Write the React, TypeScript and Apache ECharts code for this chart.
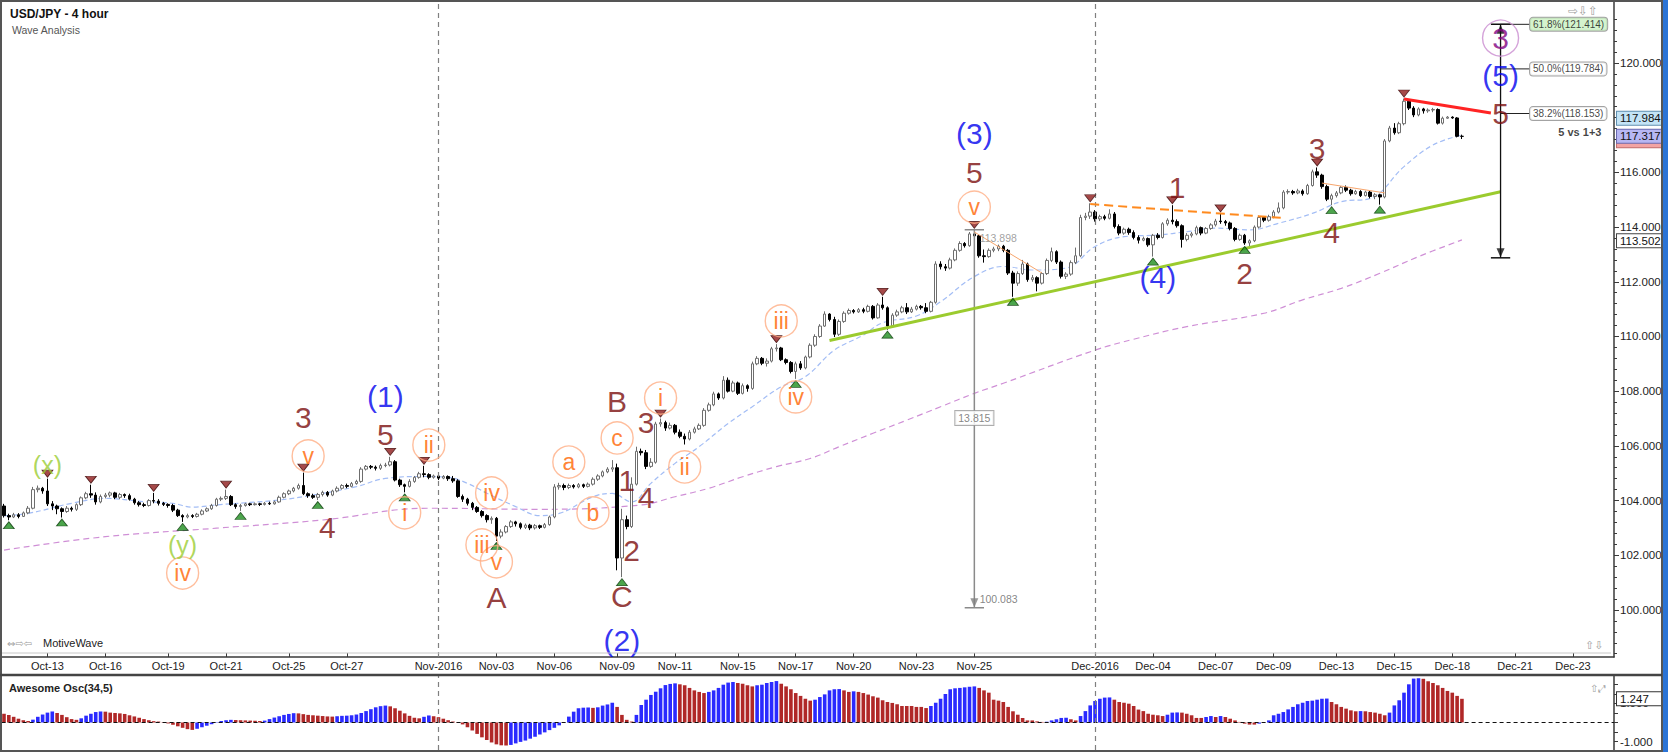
import React, { useEffect, useRef } from "react";
import * as echarts from "echarts";

const FONT = "Liberation Sans, Arial, Helvetica, sans-serif";
const ICON_FONT = "DejaVu Sans, sans-serif";

const SLOTS = 334;
const SLOT = 4.8276;
const GRID_LEFT = 1.586;

const dateTicks: [number, string][] = [
  [9, "Oct-13"], [21, "Oct-16"], [34, "Oct-19"], [46, "Oct-21"], [59, "Oct-25"], [71, "Oct-27"],
  [90, "Nov-2016"], [102, "Nov-03"], [114, "Nov-06"], [127, "Nov-09"], [139, "Nov-11"],
  [152, "Nov-15"], [164, "Nov-17"], [176, "Nov-20"], [189, "Nov-23"], [201, "Nov-25"],
  [226, "Dec-2016"], [238, "Dec-04"], [251, "Dec-07"], [263, "Dec-09"], [276, "Dec-13"],
  [288, "Dec-15"], [300, "Dec-18"], [313, "Dec-21"], [325, "Dec-23"],
];
const monthLines = ["90", "226"];
const priceTicks = [100, 102, 104, 106, 108, 110, 112, 114, 116, 118, 120];
const aoTicks = [-1, -0.5, 0, 0.5, 1, 1.5, 2];
const aoLabels = [-1, 1];

// [open, close, low, high] 4-hour candles
const candles: number[][] = [
  [103.80,103.45,103.38,103.88],[103.45,103.40,103.28,103.52],[103.40,103.48,103.36,103.55],[103.48,103.42,103.35,103.54],[103.42,103.55,103.40,103.60],
  [103.55,103.72,103.50,103.80],[103.72,104.40,103.68,104.50],[104.40,104.45,104.30,104.55],[104.45,104.35,104.25,104.50],[104.35,103.88,103.80,104.80],
  [103.88,103.80,103.65,103.98],[103.80,103.70,103.50,103.85],[103.70,103.60,103.38,103.75],[103.60,103.72,103.55,103.80],[103.72,103.68,103.60,103.78],
  [103.68,103.85,103.62,103.90],[103.85,104.10,103.80,104.15],[104.10,104.25,104.05,104.32],[104.25,104.20,104.10,104.58],[104.20,103.95,103.85,104.30],
  [103.95,104.15,103.90,104.22],[104.15,104.20,104.08,104.28],[104.20,104.28,104.12,104.33],[104.28,104.12,104.05,104.32],[104.12,104.22,104.05,104.28],
  [104.22,104.18,104.10,104.26],[104.18,104.05,104.00,104.25],[104.05,103.92,103.85,104.10],[103.92,103.85,103.78,103.98],[103.85,103.82,103.76,103.92],
  [103.82,104.00,103.78,104.05],[104.00,103.98,103.90,104.28],[103.98,103.90,103.82,104.05],[103.90,103.86,103.80,103.95],[103.86,103.82,103.74,103.90],
  [103.82,103.65,103.58,103.88],[103.65,103.45,103.40,103.70],[103.45,103.40,103.22,103.50],[103.40,103.45,103.35,103.52],[103.45,103.42,103.36,103.50],
  [103.42,103.50,103.38,103.55],[103.50,103.62,103.46,103.68],[103.62,103.70,103.58,103.75],[103.70,103.82,103.66,103.88],[103.82,104.05,103.78,104.10],
  [104.05,104.08,103.98,104.15],[104.08,104.15,104.02,104.40],[104.15,103.85,103.80,104.20],[103.85,103.78,103.70,103.90],[103.78,103.82,103.62,103.88],
  [103.82,103.88,103.78,103.92],[103.88,103.85,103.80,103.92],[103.85,103.88,103.82,103.93],[103.88,103.86,103.80,103.92],[103.86,103.90,103.82,103.95],
  [103.90,103.88,103.84,103.96],[103.88,103.95,103.85,104.00],[103.95,104.12,103.92,104.18],[104.12,104.25,104.08,104.30],[104.25,104.35,104.20,104.40],
  [104.35,104.45,104.30,104.50],[104.45,104.55,104.40,104.62],[104.55,104.25,104.20,105.02],[104.25,104.18,104.10,104.30],[104.18,104.12,104.06,104.25],
  [104.12,104.22,104.02,104.28],[104.22,104.30,104.15,104.36],[104.30,104.20,104.14,104.35],[104.20,104.35,104.16,104.40],[104.35,104.45,104.30,104.52],
  [104.45,104.55,104.40,104.60],[104.55,104.52,104.45,104.62],[104.52,104.62,104.48,104.68],[104.62,104.70,104.58,104.76],[104.70,105.15,104.65,105.22],
  [105.15,105.25,105.10,105.30],[105.25,105.22,105.15,105.30],[105.22,105.18,105.10,105.28],[105.18,105.28,105.12,105.35],[105.28,105.30,105.22,105.38],
  [105.30,105.42,105.25,105.60],[105.42,104.75,104.70,105.48],[104.75,104.58,104.50,104.80],[104.58,104.52,104.30,104.62],[104.52,104.70,104.48,104.78],
  [104.70,104.85,104.65,104.90],[104.85,104.98,104.80,105.05],[104.98,104.95,104.85,105.27],[104.95,104.85,104.78,105.00],[104.85,104.90,104.80,104.95],
  [104.90,104.82,104.75,104.95],[104.82,104.88,104.78,104.93],[104.88,104.80,104.72,104.92],[104.80,104.72,104.65,104.90],[104.72,104.15,104.10,104.78],
  [104.15,104.05,103.95,104.22],[104.05,103.90,103.82,104.10],[103.90,103.75,103.65,103.95],[103.75,103.60,103.55,103.80],[103.60,103.45,103.38,103.65],
  [103.45,103.30,103.20,103.50],[103.30,103.35,103.15,103.42],[103.35,102.70,102.52,103.40],[102.70,102.85,102.62,102.95],[102.85,103.05,102.80,103.10],
  [103.05,103.22,103.00,103.28],[103.22,103.15,103.05,103.26],[103.15,103.02,102.95,103.20],[103.02,103.10,102.96,103.16],[103.10,103.00,102.92,103.15],
  [103.00,103.08,102.94,103.14],[103.08,103.02,102.96,103.12],[103.02,103.12,102.98,103.18],[103.12,103.40,103.08,103.45],[103.40,104.50,103.35,104.60],
  [104.50,104.55,104.40,104.65],[104.55,104.48,104.38,104.62],[104.48,104.55,104.42,104.62],[104.55,104.50,104.44,104.60],[104.50,104.58,104.45,104.64],
  [104.58,104.52,104.46,104.62],[104.52,104.60,104.48,104.66],[104.60,104.78,104.55,104.85],[104.78,104.90,104.72,104.96],[104.90,105.05,104.85,105.10],
  [105.05,105.15,105.00,105.22],[105.15,105.20,105.05,105.48],[105.20,101.90,101.45,105.35],[101.90,103.30,101.20,103.70],[103.30,103.05,102.95,103.45],
  [103.05,104.60,103.00,104.85],[104.60,105.80,104.55,105.97],[105.80,105.75,105.65,105.90],[105.75,105.25,105.15,105.85],[105.25,105.40,105.20,105.55],
  [105.40,106.80,105.35,106.88],[106.80,106.85,106.70,107.00],[106.85,106.65,106.55,106.92],[106.65,106.75,106.60,106.85],[106.75,106.50,106.42,106.80],
  [106.50,106.35,106.28,106.60],[106.35,106.25,106.05,106.45],[106.25,106.50,106.20,106.58],[106.50,106.62,106.45,106.70],[106.62,106.75,106.58,106.82],
  [106.75,107.30,106.70,107.38],[107.30,107.50,107.25,107.58],[107.50,107.90,107.45,107.98],[107.90,107.75,107.68,107.95],[107.75,108.40,107.70,108.55],
  [108.40,108.00,107.95,108.50],[108.00,108.30,107.96,108.38],[108.30,107.92,107.86,108.35],[107.92,108.20,107.88,108.28],[108.20,108.10,107.98,108.25],
  [108.10,109.00,108.05,109.08],[109.00,109.20,108.95,109.28],[109.20,109.02,108.95,109.25],[109.02,109.10,108.90,109.20],[109.10,109.55,109.05,109.62],
  [109.55,109.58,109.45,109.72],[109.58,109.15,109.10,109.62],[109.15,109.05,108.98,109.20],[109.05,108.72,108.65,109.10],[108.72,109.00,108.45,109.08],
  [109.00,108.85,108.78,109.10],[108.85,109.25,108.80,109.30],[109.25,109.68,109.20,109.75],[109.68,110.00,109.62,110.08],[110.00,110.38,109.95,110.45],
  [110.38,110.82,110.35,110.92],[110.82,110.62,110.55,110.85],[110.62,110.08,109.98,110.72],[110.08,110.55,110.02,110.62],[110.55,110.85,110.50,110.92],
  [110.85,110.95,110.80,111.02],[110.95,110.90,110.84,111.00],[110.90,110.98,110.86,111.04],[110.98,110.92,110.85,111.05],[110.92,111.10,110.88,111.16],
  [111.10,110.68,110.62,111.15],[110.68,111.15,110.65,111.22],[111.15,111.05,110.98,111.45],[111.05,110.38,110.25,111.10],[110.38,110.78,110.32,110.85],
  [110.78,110.90,110.72,110.98],[110.90,111.05,110.85,111.12],[111.05,110.90,110.82,111.22],[110.90,111.00,110.86,111.08],[111.00,111.10,110.95,111.16],
  [111.10,111.05,110.98,111.15],[111.05,110.92,110.85,111.22],[110.92,111.25,110.88,111.30],[111.25,112.65,111.20,112.75],[112.65,112.55,112.45,112.75],
  [112.55,112.50,112.40,112.65],[112.50,112.80,112.45,112.88],[112.80,113.15,112.75,113.22],[113.15,113.40,113.10,113.48],[113.40,113.32,113.25,113.45],
  [113.32,113.75,113.28,113.82],[113.75,113.68,113.55,113.90],[113.68,112.95,112.88,113.72],[112.95,112.92,112.70,113.18],[112.92,113.15,112.88,113.22],
  [113.15,113.20,113.08,113.28],[113.20,113.30,113.12,113.36],[113.30,113.15,113.08,113.35],[113.15,112.32,112.25,113.20],[112.32,111.95,111.45,112.40],
  [111.95,112.30,111.85,112.38],[112.30,112.65,112.25,112.80],[112.65,112.08,112.00,112.70],[112.08,112.15,112.00,112.25],[112.15,111.95,111.65,112.20],
  [111.95,112.30,111.90,112.36],[112.30,112.78,112.25,112.85],[112.78,113.10,112.72,113.25],[113.10,112.72,112.65,113.15],[112.72,112.20,112.12,112.78],
  [112.20,112.28,112.10,112.35],[112.28,112.70,112.22,112.78],[112.70,112.95,112.65,113.25],[112.95,114.35,112.90,114.45],[114.35,114.40,114.25,114.52],
  [114.40,114.55,114.30,114.87],[114.55,114.30,114.20,114.62],[114.30,114.38,114.22,114.45],[114.38,114.32,114.25,114.45],[114.32,114.48,114.28,114.65],
  [114.48,114.02,113.95,114.55],[114.02,113.78,113.70,114.10],[113.78,113.92,113.72,113.98],[113.92,113.80,113.72,113.98],[113.80,113.62,113.55,113.88],
  [113.62,113.52,113.40,113.70],[113.52,113.58,113.48,113.65],[113.58,113.35,113.28,113.62],[113.35,113.70,112.92,113.75],[113.70,113.62,113.55,113.78],
  [113.62,114.12,113.58,114.18],[114.12,114.25,114.05,114.32],[114.25,114.20,114.10,114.80],[114.20,114.05,113.98,114.28],[114.05,113.55,113.25,114.10],
  [113.55,113.70,113.48,113.78],[113.70,113.75,113.62,113.82],[113.75,113.98,113.70,114.05],[113.98,113.78,113.70,114.02],[113.78,113.95,113.74,114.00],
  [113.95,114.08,113.90,114.14],[114.08,114.22,114.02,114.30],[114.22,114.20,114.12,114.50],[114.20,114.15,114.05,114.26],[114.15,113.95,113.88,114.20],
  [113.95,113.55,113.48,114.00],[113.55,113.70,113.50,113.76],[113.70,113.42,113.35,113.75],[113.42,113.50,113.30,113.55],[113.50,114.00,113.45,114.06],
  [114.00,114.35,113.95,114.42],[114.35,114.25,114.18,114.40],[114.25,114.38,114.20,114.45],[114.38,114.55,114.32,114.62],[114.55,114.70,114.50,114.90],
  [114.70,115.28,114.65,115.35],[115.28,115.30,115.20,115.38],[115.30,115.25,115.18,115.36],[115.25,115.32,115.20,115.40],[115.32,115.22,115.15,115.38],
  [115.22,115.52,115.18,115.58],[115.52,116.02,115.48,116.10],[116.02,115.90,115.80,116.18],[115.90,115.48,115.40,115.95],[115.48,115.02,114.95,115.55],
  [115.02,115.15,114.80,115.22],[115.15,115.25,115.08,115.32],[115.25,115.45,115.20,115.50],[115.45,115.35,115.28,115.52],[115.35,115.22,115.15,115.40],
  [115.22,115.30,115.18,115.36],[115.30,115.15,115.10,115.35],[115.15,115.28,115.12,115.33],[115.28,115.12,115.05,115.32],[115.12,115.18,115.02,115.24],
  [115.18,115.10,114.82,115.22],[115.10,117.15,115.05,117.22],[117.15,117.62,117.10,117.70],[117.62,117.45,117.38,117.80],[117.45,117.78,117.40,117.85],
  [117.78,118.60,117.72,118.70],[118.60,118.35,118.28,118.62],[118.35,118.10,118.02,118.42],[118.10,118.32,118.05,118.38],[118.32,118.25,118.15,118.36],
  [118.25,118.28,118.18,118.34],[118.28,118.30,118.20,118.36],[118.30,117.80,117.75,118.34],[117.80,117.98,117.75,118.04],[117.98,118.02,117.96,118.06],
  [118.02,117.99,117.96,118.05],[117.99,117.32,117.28,118.02],[117.32,117.317,117.22,117.38],
];

// Awesome Oscillator (34,5) histogram values
const aoValues: number[] = [
  0.46,0.40,0.30,0.20,0.12,0.08,0.15,0.30,0.42,0.52,
  0.58,0.50,0.40,0.28,0.18,0.14,0.22,0.36,0.46,0.55,
  0.58,0.57,0.52,0.50,0.48,0.45,0.38,0.32,0.25,0.18,
  0.12,0.07,0.05,0.02,-0.05,-0.12,-0.20,-0.28,-0.35,-0.39,
  -0.33,-0.25,-0.17,-0.09,-0.02,0.08,0.12,0.14,0.13,0.12,
  0.11,0.10,0.09,0.08,0.10,0.18,0.26,0.33,0.40,0.45,
  0.49,0.48,0.44,0.40,0.38,0.36,0.34,0.32,0.31,0.33,
  0.35,0.36,0.38,0.42,0.50,0.60,0.70,0.80,0.86,0.89,
  0.85,0.75,0.62,0.48,0.35,0.25,0.22,0.30,0.37,0.33,
  0.28,0.20,0.12,0.05,-0.02,-0.10,-0.25,-0.42,-0.60,-0.78,
  -0.92,-1.05,-1.15,-1.20,-1.21,-1.18,-1.10,-1.02,-0.95,-0.85,
  -0.75,-0.63,-0.52,-0.40,-0.28,-0.15,-0.02,0.31,0.57,0.75,
  0.78,0.79,0.77,0.80,0.89,0.95,1.04,0.82,0.40,0.14,
  0.05,0.40,0.92,1.20,1.45,1.62,1.80,1.97,2.03,2.06,
  2.01,1.96,1.82,1.69,1.61,1.55,1.61,1.69,1.82,1.99,
  2.10,2.13,2.08,2.04,1.96,1.90,1.96,1.99,2.08,2.13,
  2.18,2.04,1.90,1.75,1.55,1.40,1.25,1.15,1.20,1.34,
  1.48,1.69,1.75,1.76,1.69,1.61,1.64,1.61,1.55,1.47,
  1.38,1.31,1.17,1.08,1.03,0.96,0.87,0.87,0.87,0.82,
  0.82,0.76,0.87,1.04,1.25,1.50,1.75,1.80,1.82,1.85,
  1.88,1.90,1.82,1.69,1.57,1.20,1.15,1.08,0.82,0.59,
  0.41,0.24,0.11,0.11,0.06,0.03,0.04,0.11,0.17,0.24,
  0.25,0.17,0.11,0.34,0.60,0.90,1.13,1.25,1.31,1.32,
  1.20,1.08,1.04,0.99,0.87,0.68,0.60,0.46,0.41,0.38,
  0.34,0.41,0.52,0.53,0.52,0.46,0.38,0.24,0.24,0.29,
  0.34,0.29,0.34,0.29,0.20,0.11,0.03,-0.06,-0.11,-0.11,
  -0.06,-0.01,0.11,0.38,0.46,0.55,0.69,0.82,0.96,1.04,
  1.13,1.15,1.20,1.25,1.26,1.08,0.96,0.82,0.73,0.64,
  0.59,0.60,0.59,0.55,0.52,0.46,0.38,0.52,0.90,1.17,
  1.57,2.01,2.31,2.33,2.30,2.17,2.08,1.96,1.82,1.66,
  1.57,1.40,1.247,
];

// moving averages read at sampled candle positions [index, price]
const fastMA: number[][] = [
  [0,103.45],[5,103.53],[14,103.9],[21,104.08],[29,103.96],[35,103.9],[39,103.76],[44,103.84],[50,103.92],[57,104.02],
  [64,104.2],[73,104.51],[79,104.81],[87,104.88],[92,104.85],[96,104.63],[100,104.27],[106,103.78],[111,103.45],[115,103.53],
  [122,104.14],[126,104.26],[130,103.95],[134,104.63],[139,105.36],[144,105.97],[150,106.82],[155,107.43],[161,108.16],[166,108.53],
  [172,109.5],[178,110.05],[182,110.5],[189,110.75],[194,111.27],[201,112.19],[207,112.56],[213,112.43],[220,112.5],[226,113.29],
  [232,113.65],[239,113.71],[245,113.83],[251,113.96],[258,113.9],[264,114.14],[271,114.5],[277,114.93],[283,115.05],[290,116.21],
  [296,117.0],[302,117.37],
];
const slowMA: number[][] = [
  [0,102.19],[21,102.68],[44,102.99],[66,103.29],[88,103.72],[111,103.68],[132,103.84],[139,104.14],[146,104.45],[153,104.87],
  [160,105.24],[167,105.54],[173,105.97],[180,106.46],[187,106.94],[194,107.43],[201,107.92],[207,108.29],[226,109.5],[234,109.9],
  [245,110.36],[261,110.85],[269,111.34],[277,111.76],[285,112.31],[293,112.92],[302,113.53],
];

// swing markers (candle indexes)
const swingHighs = [9, 18, 31, 46, 62, 80, 87, 136, 160, 182, 201, 225, 242, 252, 272, 290];
const swingLows = [1, 12, 37, 49, 65, 83, 102, 128, 164, 183, 209, 238, 257, 275, 285];

// wave labels [text, index, price]
const maroonLabels: [string, number, number][] = [
  ["3", 62.3, 107.02], ["4", 66.9, 103.03], ["5", 79.4, 106.4], ["A", 102.3, 100.44],
  ["B", 127.4, 107.61], ["3", 132.8, 106.87], ["1", 129.1, 104.75], ["4", 133.2, 104.1],
  ["2", 129.5, 102.19], ["C", 128.2, 100.48], ["5", 200.5, 115.98], ["1", 242.6, 115.43],
  ["2", 257.1, 112.32], ["3", 271.8, 116.89], ["4", 275.3, 113.82], ["5", 309.5, 118.17],
];
const blueLabels: [string, number, number][] = [
  ["(1)", 79.4, 107.79], ["(2)", 128.4, 98.9], ["(3)", 200.5, 117.44], ["(4)", 238.6, 112.14], ["(5)", 309.5, 119.56],
];
const greenLabels: [string, number, number][] = [["(x)", 8.7, 105.3], ["(y)", 36.9, 102.38]];
const orangeCircled: [string, number, number][] = [
  ["iv", 37.3, 101.35], ["v", 62.6, 105.63], ["i", 83.1, 103.55], ["ii", 88.2, 106.03],
  ["iv", 100.7, 104.28], ["iii", 99.0, 102.38], ["v", 102.3, 101.76], ["a", 117.4, 105.41],
  ["b", 121.8, 103.55], ["c", 127.2, 106.29], ["i", 136.3, 107.75], ["ii", 141.1, 105.23],
  ["iii", 160.5, 110.57], ["iv", 163.9, 107.79], ["v", 200.5, 114.73],
];
const purpleCircled: [string, number, number][] = [["3", 309.5, 120.91]];

// drawn lines [[index, price], [index, price]]
const trendLines = [
  { pts: [[171.4, 109.85], [309.5, 115.29]], color: "#9bcb2e", width: 3, type: "solid" },
  { pts: [[224.8, 114.84], [265.2, 114.33]], color: "#ff8a1e", width: 2, type: [9, 5] },
  { pts: [[201.3, 113.82], [215.1, 112.32]], color: "#f7a56c", width: 1, type: "solid" },
  { pts: [[273.4, 115.61], [285.6, 115.25]], color: "#f7a56c", width: 1, type: "solid" },
  { pts: [[289.8, 118.68], [308.4, 118.17]], color: "#ff2424", width: 3, type: "solid" },
];

// wave (1)-(3) measure and wave (5) projection
const measureX = 200.5;
const measureTop = 113.898;
const measureBottom = 100.083;
const measureLen = "13.815";
const fibX = 309.5;
const fibBase = 112.876;
const fibLabelX = 316.3;
const fibLevels: [string, number, string][] = [
  ["61.8%(121.414)", 121.414, "#c9f0c0"],
  ["50.0%(119.784)", 119.784, "#ffffff"],
  ["38.2%(118.153)", 118.153, "#ffffff"],
];

// right axis value tags [value, text, background, border]
const priceTags: [number, string, string, string][] = [
  [117.984, "117.984", "#c4e4f6", "#5f8fb0"],
  [117.16, " ", "#f2a4a4", "#c07070"],
  [117.317, "117.317", "#b7b7f3", "#6a6ab0"],
  [113.502, "113.502", "#ffffff", "#444444"],
];
const aoTag = 1.247;

const AO_UP = "#2a2aff";
const AO_DOWN = "#b02828";
const MAROON = "#7a0c0c";
const BLUE = "#0000ee";

function textSeries(items: [string, number, number][], color: string, fontSize: number, circle?: { size: number; stroke: string }) {
  return {
    type: "scatter",
    xAxisIndex: 0,
    yAxisIndex: 0,
    z: 20,
    silent: true,
    symbol: "circle",
    symbolSize: circle ? circle.size : 1,
    itemStyle: circle
      ? { color: "rgba(255,255,255,0)", borderColor: circle.stroke, borderWidth: 1.4 }
      : { color: "rgba(255,255,255,0)" },
    data: items.map(([t, i, p]) => ({ name: t, value: [i, p] })),
    label: { show: true, position: "inside", formatter: "{b}", color, fontSize, fontFamily: FONT },
  };
}

function segment(pts: number[][], color: string, width: number, type: any = "solid", z = 6) {
  return {
    type: "line",
    xAxisIndex: 0,
    yAxisIndex: 0,
    silent: true,
    z,
    symbol: "none",
    data: pts,
    lineStyle: { color, width, type },
  };
}

function tagItem(v: number, t: string, bg: string, bd: string) {
  return {
    yAxis: v,
    lineStyle: { color: "rgba(0,0,0,0)", width: 1 },
    label: {
      show: true, position: "end", distance: 3, formatter: t, color: "#111", fontSize: 11.5, fontFamily: FONT,
      backgroundColor: bg, borderColor: bd, borderWidth: 1, padding: [1, 3, 0, 3], width: 40, height: 12,
    },
  };
}

function buildOption() {
  const tickMap = new Map<number, string>(dateTicks);
  const cats = Array.from({ length: SLOTS }, (_, i) => String(i));
  const minorTicks: number[] = [];
  for (let k = 1; k < 61; k++) {
    const v = Math.round((98 + 0.4 * k) * 10) / 10;
    if (k % 5 !== 0 && v < 122.2) minorTicks.push(v);
  }
  const gridW = SLOTS * SLOT;
  const priceMin = 98.28;
  const priceMax = 122.23;

  const series: any[] = [];

  series.push({
    type: "line", xAxisIndex: 0, yAxisIndex: 0, z: 2, silent: true, symbol: "none", smooth: 0.4,
    data: slowMA, lineStyle: { color: "#cf8fd6", width: 1.2, type: [6, 4] },
  });
  series.push({
    type: "line", xAxisIndex: 0, yAxisIndex: 0, z: 2, silent: true, symbol: "none", smooth: 0.4,
    data: fastMA, lineStyle: { color: "#a3bdf5", width: 1.2, type: [5, 3] },
  });

  series.push({
    type: "candlestick",
    xAxisIndex: 0,
    yAxisIndex: 0,
    z: 4,
    barWidth: 3,
    data: candles,
    itemStyle: { color: "#ffffff", color0: "#000000", borderColor: "#6e6e6e", borderColor0: "#000000", borderWidth: 1 },
    markLine: {
      silent: true,
      symbol: "none",
      animation: false,
      data: monthLines.map((m) => ({ xAxis: m, lineStyle: { color: "#808080", width: 1.2, type: [5, 4] }, label: { show: false } })),
    },
  });

  // value tags on the price axis
  series.push({
    type: "line", xAxisIndex: 0, yAxisIndex: 0, z: 30, silent: true, symbol: "none", data: [],
    markLine: {
      silent: true, symbol: "none", animation: false,
      data: priceTags.map(([v, t, bg, bd]) => tagItem(v, t, bg, bd)),
    },
  });

  trendLines.forEach((t) => series.push(segment(t.pts, t.color, t.width, t.type)));

  // measure tool
  series.push(segment([[measureX, measureTop], [measureX, measureBottom]], "#8a8a8a", 1.5, "solid", 5));
  series.push(segment([[measureX - 2, measureTop], [measureX + 2, measureTop]], "#8a8a8a", 1.5, "solid", 5));
  series.push(segment([[measureX - 2, measureBottom], [measureX + 2, measureBottom]], "#8a8a8a", 1.5, "solid", 5));
  series.push({
    type: "scatter", xAxisIndex: 0, yAxisIndex: 0, z: 7, silent: true,
    symbol: "triangle", symbolRotate: 180, symbolSize: [8, 9], symbolOffset: [0, -5],
    itemStyle: { color: "#808080" }, data: [[measureX, measureBottom]],
  });

  // fib projection tool
  series.push(segment([[fibX, fibBase], [fibX, fibLevels[0][1]]], "#111111", 1.3, "solid", 7));
  series.push(segment([[fibX - 2, fibLevels[0][1]], [fibX + 2, fibLevels[0][1]]], "#111111", 1.5, "solid", 7));
  series.push(segment([[fibX - 2, fibBase], [fibX + 2, fibBase]], "#111111", 1.5, "solid", 7));
  fibLevels.forEach(([, v]) => series.push(segment([[fibX, v], [fibLabelX, v]], "#222222", 1, "solid", 7)));
  series.push({
    type: "scatter", xAxisIndex: 0, yAxisIndex: 0, z: 8, silent: true,
    symbol: "triangle", symbolSize: [8, 9],
    itemStyle: { color: "#111111" },
    data: [
      { value: [fibX, fibBase], symbolRotate: 180, symbolOffset: [0, -5] },
      { value: [fibX, fibLevels[0][1]], symbolRotate: 0, symbolOffset: [0, 5] },
    ],
  });
  series.push({
    type: "scatter", xAxisIndex: 0, yAxisIndex: 0, z: 9, silent: true,
    symbol: "circle", symbolSize: 1, itemStyle: { color: "rgba(0,0,0,0)" },
    data: fibLevels.map(([t, v, bg]) => ({
      name: t, value: [fibLabelX, v],
      label: { backgroundColor: bg },
    })),
    label: {
      show: true, position: "right", distance: 0, formatter: "{b}", color: "#111", fontSize: 10, fontFamily: FONT,
      borderColor: "#8c8c8c", borderWidth: 1, borderRadius: 3, padding: [2, 3, 1, 3],
    },
  });

  // measure text
  series.push({
    type: "scatter", xAxisIndex: 0, yAxisIndex: 0, z: 9, silent: true,
    symbol: "circle", symbolSize: 1, itemStyle: { color: "rgba(0,0,0,0)" },
    data: [
      { name: measureLen, value: [measureX, 107.02], label: { position: "inside", backgroundColor: "#ffffff", borderColor: "#999", borderWidth: 1, padding: [2, 3, 1, 3], color: "#666" } },
      { name: measureTop.toFixed(3), value: [measureX + 1.6, 113.61], label: { position: "right", distance: 0, color: "#8a8a8a" } },
      { name: measureBottom.toFixed(3), value: [measureX + 1.2, 100.4], label: { position: "right", distance: 0, color: "#666" } },
      { name: "5 vs 1+3", value: [331.4, 117.47], label: { position: "left", distance: 0, color: "#111", fontWeight: "bold", fontSize: 11 } },
    ],
    label: { show: true, formatter: "{b}", fontSize: 10.5, fontFamily: FONT },
  });

  // swing markers
  series.push({
    type: "scatter", xAxisIndex: 0, yAxisIndex: 0, z: 10, silent: true,
    symbol: "triangle", symbolRotate: 180, symbolSize: [11, 7], symbolOffset: [0, -5],
    itemStyle: { color: "#8e1b1b", borderColor: "#3b0808", borderWidth: 0.8 },
    data: swingHighs.map((i) => [i, candles[i][3]]),
  });
  series.push({
    type: "scatter", xAxisIndex: 0, yAxisIndex: 0, z: 10, silent: true,
    symbol: "triangle", symbolSize: [11, 7], symbolOffset: [0, 5],
    itemStyle: { color: "#1f8f1f", borderColor: "#0b3b0b", borderWidth: 0.8 },
    data: swingLows.map((i) => [i, candles[i][2]]),
  });

  series.push(textSeries(orangeCircled, "#ff6400", 23, { size: 32, stroke: "#ffae84" }));
  series.push(textSeries(purpleCircled, "#800080", 30, { size: 36, stroke: "#c98bd0" }));
  series.push(textSeries(maroonLabels, MAROON, 30));
  series.push(textSeries(blueLabels, BLUE, 30));
  series.push(textSeries(greenLabels, "#9acd32", 25));

  // Awesome oscillator
  series.push({
    type: "bar",
    xAxisIndex: 1,
    yAxisIndex: 2,
    barWidth: 3.6,
    silent: true,
    data: aoValues.map((v, i) => ({ value: v, itemStyle: { color: i > 0 && v > aoValues[i - 1] ? AO_UP : AO_DOWN } })),
    markLine: {
      silent: true,
      symbol: "none",
      animation: false,
      data: [
        { yAxis: 0, lineStyle: { color: "#111", width: 1, type: [4, 3] }, label: { show: false } },
        ...monthLines.map((m) => ({ xAxis: m, lineStyle: { color: "#808080", width: 1.2, type: [5, 4] }, label: { show: false } })),
      ],
    },
  });
  series.push({
    type: "line", xAxisIndex: 1, yAxisIndex: 2, z: 30, silent: true, symbol: "none", data: [],
    markLine: { silent: true, symbol: "none", animation: false, data: [tagItem(aoTag, aoTag.toFixed(3), "#ffffff", "#333333")] },
  });

  const G = "#3a3a3a";
  const graphic: any[] = [
    { type: "rect", z: 100, silent: true, shape: { x: 1662, y: 0, width: 6, height: 752 }, style: { fill: "#2b74d6" } },
    { type: "rect", z: 100, silent: true, shape: { x: 1, y: 1, width: 1661, height: 750 }, style: { fill: "none", stroke: "#555", lineWidth: 2 } },
    { type: "line", z: 100, silent: true, shape: { x1: 0, y1: 675, x2: 1662, y2: 675 }, style: { stroke: "#444", lineWidth: 2.5 } },
    { type: "line", z: 100, silent: true, shape: { x1: 2, y1: 653, x2: 1611, y2: 653 }, style: { stroke: "#c8c8c8", lineWidth: 1 } },
    { type: "text", z: 100, silent: true, x: 10, y: 14, style: { text: "USD/JPY - 4 hour", font: `bold 12px ${FONT}`, fill: "#111", textVerticalAlign: "middle" } },
    { type: "text", z: 100, silent: true, x: 12, y: 30, style: { text: "Wave Analysis", font: `10.5px ${FONT}`, fill: "#555", textVerticalAlign: "middle" } },
    { type: "text", z: 100, silent: true, x: 7, y: 643, style: { text: "⇔⇨⇦", font: `10px ${ICON_FONT}`, fill: "#9a9a9a", textVerticalAlign: "middle" } },
    { type: "text", z: 100, silent: true, x: 43, y: 643, style: { text: "MotiveWave", font: `11px ${FONT}`, fill: "#222", textVerticalAlign: "middle" } },
    { type: "text", z: 100, silent: true, x: 9, y: 688, style: { text: "Awesome Osc(34,5)", font: `bold 11px ${FONT}`, fill: "#222", textVerticalAlign: "middle" } },
    { type: "text", z: 100, silent: true, x: 1568, y: 11, style: { text: "⇨⇩⇧", font: `12px ${ICON_FONT}`, fill: "#a0a0a0", textVerticalAlign: "middle" } },
    { type: "text", z: 100, silent: true, x: 1585, y: 645, style: { text: "⇧⇩", font: `11px ${ICON_FONT}`, fill: "#a0a0a0", textVerticalAlign: "middle" } },
    { type: "text", z: 100, silent: true, x: 1590, y: 688, style: { text: "⇧⤢", font: `10px ${ICON_FONT}`, fill: "#a0a0a0", textVerticalAlign: "middle" } },
  ];

  return {
    animation: false,
    backgroundColor: "#ffffff",
    textStyle: { fontFamily: FONT },
    grid: [
      { left: GRID_LEFT, top: 2, width: gridW, height: 655, outerBoundsMode: "none", containLabel: false },
      { left: GRID_LEFT, top: 676, width: gridW, height: 74, outerBoundsMode: "none", containLabel: false },
    ],
    xAxis: [
      {
        type: "category",
        gridIndex: 0,
        data: cats,
        boundaryGap: true,
        axisLine: { show: true, lineStyle: { color: G, width: 1.5 } },
        axisTick: {
          show: true, inside: true, length: 4, alignWithLabel: true,
          interval: (i: number) => tickMap.has(i), lineStyle: { color: G },
        },
        axisLabel: {
          interval: (i: number) => tickMap.has(i),
          formatter: (_v: string, i: number) => tickMap.get(i) ?? "",
          color: "#222", fontSize: 11, fontFamily: FONT, margin: 3,
        },
        splitLine: { show: false },
      },
      {
        type: "category",
        gridIndex: 1,
        data: cats,
        boundaryGap: true,
        axisLine: { show: false },
        axisTick: { show: false },
        axisLabel: { show: false },
        splitLine: { show: false },
      },
    ],
    yAxis: [
      {
        type: "value",
        gridIndex: 0,
        position: "right",
        min: priceMin,
        max: priceMax,
        axisLine: { show: true, lineStyle: { color: G, width: 1.5 } },
        axisTick: { show: true, length: 5, customValues: priceTicks, lineStyle: { color: G } },
        axisLabel: { customValues: priceTicks, formatter: (v: number) => v.toFixed(3), color: "#222", fontSize: 11.5, fontFamily: FONT, margin: 6 },
        splitLine: { show: false },
      },
      {
        type: "value",
        gridIndex: 0,
        position: "right",
        min: priceMin,
        max: priceMax,
        axisLine: { show: false },
        axisTick: { show: true, length: 3, customValues: minorTicks, lineStyle: { color: G } },
        axisLabel: { show: false },
        splitLine: { show: false },
      },
      {
        type: "value",
        gridIndex: 1,
        position: "right",
        min: -1.447,
        max: 2.447,
        axisLine: { show: true, lineStyle: { color: G, width: 1.5 } },
        axisTick: { show: true, length: 4, customValues: aoTicks, lineStyle: { color: G } },
        axisLabel: { customValues: aoLabels, formatter: (v: number) => v.toFixed(3), color: "#222", fontSize: 11.5, fontFamily: FONT, margin: 6 },
        splitLine: { show: false },
      },
    ],
    series,
    graphic,
  };
}

export default function App() {
  const ref = useRef<HTMLDivElement>(null);
  useEffect(() => {
    document.body.style.margin = "0";
    if (!ref.current) return;
    const chart = echarts.init(ref.current, null, { renderer: "svg" });
    chart.setOption(buildOption() as any);
    return () => chart.dispose();
  }, []);
  return <div ref={ref} style={{ position: "absolute", left: 0, top: 0, width: 1668, height: 752 }} />;
}
